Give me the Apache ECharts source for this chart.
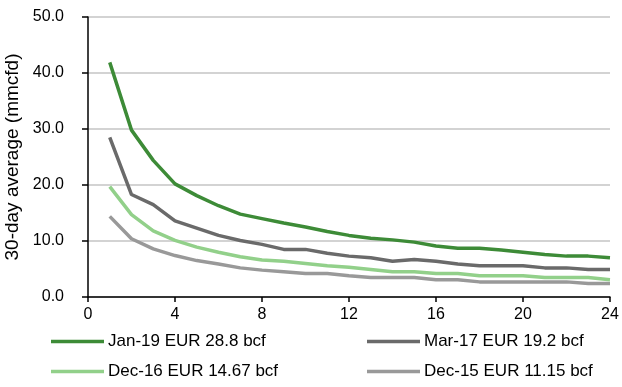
<!DOCTYPE html>
<html>
<head>
<meta charset="utf-8">
<script src="https://cdn.jsdelivr.net/npm/echarts@6/dist/echarts.min.js"></script>
<style>html,body{margin:0;padding:0;background:#fff}#c{width:622px;height:387px}</style>
</head>
<body>
<div id="c"></div>
<script>
const months = [1,2,3,4,5,6,7,8,9,10,11,12,13,14,15,16,17,18,19,20,21,22,23,24];
const seriesNames = ['Jan-19 EUR 28.8 bcf','Mar-17 EUR 19.2 bcf','Dec-16 EUR 14.67 bcf','Dec-15 EUR 11.15 bcf'];
const jan19 = [41.9,29.8,24.4,20.2,18.1,16.3,14.8,14.0,13.2,12.5,11.7,11.0,10.5,10.2,9.8,9.1,8.7,8.7,8.4,8.0,7.6,7.3,7.3,7.0];
const mar17 = [28.5,18.3,16.5,13.6,12.3,11.0,10.1,9.4,8.5,8.5,7.8,7.3,7.0,6.4,6.7,6.4,5.9,5.6,5.6,5.6,5.2,5.2,4.9,4.9];
const dec16 = [19.7,14.7,11.8,10.1,8.9,8.0,7.2,6.6,6.4,6.0,5.6,5.3,4.9,4.5,4.5,4.2,4.2,3.8,3.8,3.8,3.5,3.5,3.5,3.1];
const dec15 = [14.4,10.4,8.6,7.4,6.5,5.9,5.2,4.8,4.5,4.2,4.2,3.8,3.5,3.5,3.5,3.1,3.1,2.7,2.7,2.7,2.7,2.7,2.4,2.4];
const yTitle = '30-day average (mmcfd)';

const colors = ['#3d8b37','#6a6a6a','#92d08a','#999999'];
const FONT = '"Liberation Sans Narrow", "Arial Narrow", "Liberation Sans", Arial, sans-serif';
const pair = (arr) => months.map((m, i) => [m, arr[i]]);
const allData = [jan19, mar17, dec16, dec15];
const legendPos = [[51, 333], [367, 333], [51, 363], [367, 363]];

const chart = echarts.init(document.getElementById('c'), null, {renderer: 'canvas'});
chart.setOption({
  animation: false,
  textStyle: {fontFamily: FONT},
  grid: {left: 88, right: 12, top: 17, bottom: 90, containLabel: false, outerBoundsMode: 'none'},
  legend: seriesNames.map((n, i) => ({
    left: legendPos[i][0], top: legendPos[i][1], padding: 0,
    itemWidth: 53, itemHeight: 3.5, icon: 'rect', data: [n],
    textStyle: {fontFamily: FONT, fontSize: 17, color: '#000', padding: [0, 0, 0, -1]}
  })),
  xAxis: {
    type: 'value', min: 0, max: 24, interval: 4,
    axisLine: {show: true, lineStyle: {color: '#000', width: 1.5}},
    axisTick: {show: true, length: 5, lineStyle: {color: '#000', width: 1.5}},
    splitLine: {show: false},
    axisLabel: {fontFamily: FONT, fontSize: 16, color: '#000', margin: 10}
  },
  yAxis: {
    type: 'value', min: 0, max: 50, interval: 10,
    name: yTitle, nameLocation: 'middle', nameGap: 62, nameRotate: 90,
    nameTextStyle: {fontFamily: FONT, fontSize: 19, color: '#000'},
    axisLine: {show: true, lineStyle: {color: '#000', width: 1.5}},
    axisTick: {show: true, length: 6, lineStyle: {color: '#000', width: 1.5}},
    splitLine: {show: true, lineStyle: {color: '#c4c4c4', width: 1.5}},
    axisLabel: {fontFamily: FONT, fontSize: 16, color: '#000', margin: 24,
      formatter: v => v.toFixed(1)}
  },
  series: seriesNames.map((n, i) => ({
    name: n, type: 'line', data: pair(allData[i]), showSymbol: false, symbol: 'none',
    lineStyle: {color: colors[i], width: 3.5}, itemStyle: {color: colors[i]}, z: 10 - i
  }))
});
</script>
</body>
</html>
